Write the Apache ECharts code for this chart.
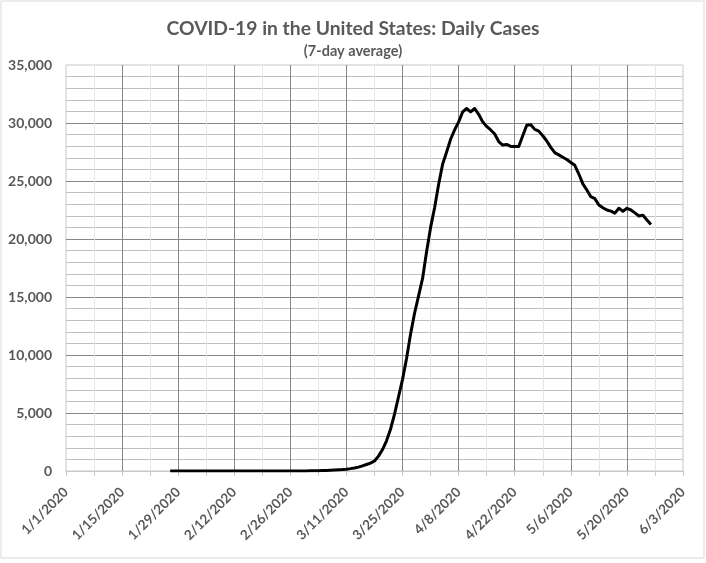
<!DOCTYPE html>
<html>
<head>
<meta charset="utf-8">
<title>COVID-19 in the United States: Daily Cases</title>
<script src="https://cdn.jsdelivr.net/npm/echarts@6/dist/echarts.min.js"></script>
<style>
  html, body { margin: 0; padding: 0; background: #fff; }
  #chart { width: 706px; height: 563px; }
</style>
</head>
<body>
<div id="chart"></div>
<script>
// day 0 = 1/1/2020, ticks every 14 days
const tickLabels = ['1/1/2020', '1/15/2020', '1/29/2020', '2/12/2020', '2/26/2020', '3/11/2020',
    '3/25/2020', '4/8/2020', '4/22/2020', '5/6/2020', '5/20/2020', '6/3/2020'];

// first point is 1/27/2020 (day 26)
const firstDay = 26;

// 7-day average of daily cases
const casesJan = [0, 1, 1, 1, 1];
const casesFeb = [1, 1, 1, 1, 1, 1, 1, 1, 1, 1, 1, 1, 1, 1, 1, 1, 1, 1, 1, 1,
    1, 2, 2, 3, 3, 4, 5, 6, 8];
const casesMar = [10, 14, 19, 26, 35, 48, 62, 78, 100, 125, 160, 205, 265, 335, 440, 560,
    680, 860, 1280, 1850, 2600, 3600, 4900, 6400, 7900, 9700, 11800, 13600, 15100, 16600, 18900];
const casesApr = [21000, 22700, 24700, 26450, 27500, 28600, 29400, 30100, 30950, 31250,
    30950, 31250, 30750, 30100, 29700, 29400, 29050, 28400, 28100, 28150,
    27980, 27980, 27980, 28900, 29800, 29850, 29450, 29300, 28900, 28450];
const casesMay = [27900, 27450, 27250, 27050, 26850, 26600, 26350, 25600, 24750, 24220,
    23650, 23480, 22930, 22700, 22500, 22400, 22230, 22650, 22400, 22650,
    22500, 22250, 21980, 22040, 21640, 21250];

const dailyCases = [].concat(casesJan, casesFeb, casesMar, casesApr, casesMay);

const chartDom = document.getElementById('chart');
const myChart = echarts.init(chartDom);

const textColor = '#595959';
const fontFamily = 'Lato, "Open Sans", sans-serif';

const option = {
    animation: false,
    backgroundColor: '#fff',
    title: {
        text: 'COVID-19 in the United States: Daily Cases',
        subtext: '(7-day average)',
        left: 'center',
        top: 14,
        itemGap: 6,
        textStyle: {
            color: textColor,
            fontFamily: fontFamily,
            fontSize: 19.3,
            fontWeight: 'bold'
        },
        subtextStyle: {
            color: textColor,
            fontFamily: fontFamily,
            fontSize: 14.5,
            fontWeight: 'bold'
        }
    },
    graphic: [{
        type: 'rect',
        shape: { x: 1, y: 1, width: 703, height: 557 },
        style: { fill: 'none', stroke: '#d9d9d9', lineWidth: 1 },
        silent: true,
        z: -1
    }],
    grid: {
        left: 66,
        right: 23,
        top: 65,
        bottom: 92,
        show: true,
        borderColor: '#c8c8c8',
        borderWidth: 1
    },
    xAxis: {
        type: 'value',
        min: 0,
        max: 154,
        interval: 14,
        axisLine: { show: true, lineStyle: { color: '#c8c8c8' } },
        axisTick: { show: true, length: 5, lineStyle: { color: '#c8c8c8' } },
        minorTick: { show: true, splitNumber: 2, length: 5, lineStyle: { color: '#c8c8c8' } },
        splitLine: {
            show: true,
            showMinLine: false,
            showMaxLine: false,
            lineStyle: { color: '#878787' }
        },
        minorSplitLine: { show: true, lineStyle: { color: '#e6e6e6' } },
        axisLabel: {
            rotate: 45,
            margin: 19,
            color: textColor,
            fontFamily: fontFamily,
            fontSize: 13.5,
            fontWeight: 'bold',
            showMinLabel: true,
            showMaxLabel: true,
            formatter: function (value) {
                return tickLabels[Math.round(value / 14)];
            }
        }
    },
    yAxis: {
        type: 'value',
        min: 0,
        max: 35000,
        interval: 5000,
        axisLine: { show: false },
        axisTick: { show: false },
        splitLine: {
            show: true,
            showMinLine: false,
            showMaxLine: false,
            lineStyle: { color: '#878787' }
        },
        minorSplitLine: { show: true, lineStyle: { color: '#c0c0c0' } },
        minorTick: { show: false, splitNumber: 5 },
        axisLabel: {
            margin: 14,
            color: textColor,
            fontFamily: fontFamily,
            fontSize: 14,
            fontWeight: 'bold',
            formatter: function (value) {
                return value.toLocaleString('en-US');
            }
        }
    },
    series: [{
        name: 'Daily Cases',
        type: 'line',
        data: dailyCases.map((v, i) => [firstDay + i, v]),
        showSymbol: false,
        smooth: false,
        lineStyle: { color: '#000', width: 3, cap: 'butt', join: 'round' },
        z: 5
    }]
};

myChart.setOption(option);

window.addEventListener('resize', function () {
    myChart.resize();
});
</script>
</body>
</html>
